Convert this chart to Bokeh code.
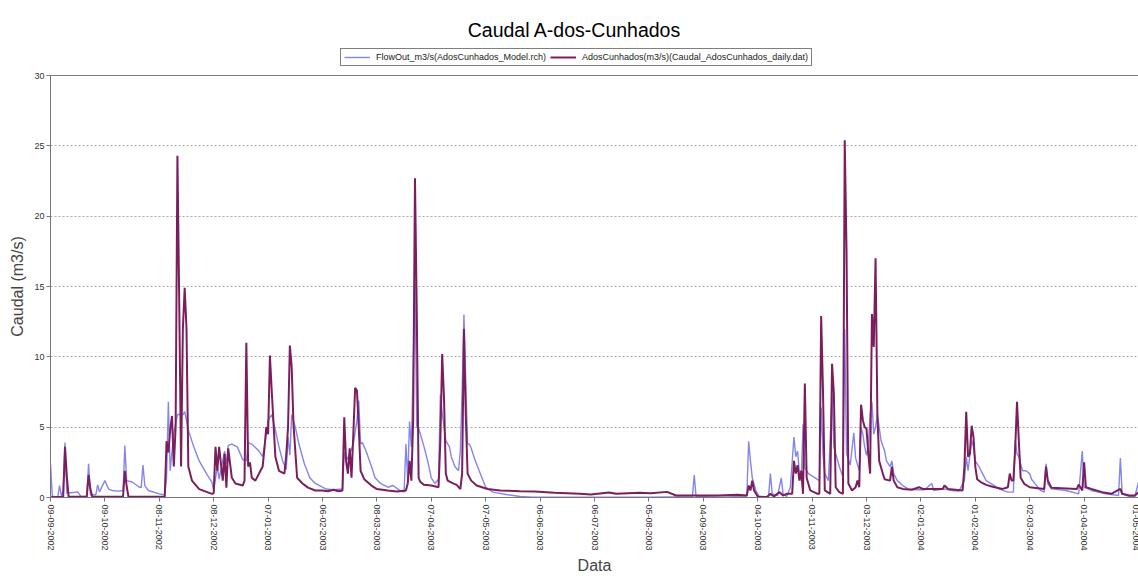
from bokeh.plotting import figure
from bokeh.layouts import column
from bokeh.models import (FixedTicker, Legend, LegendItem, Range1d, Span, ColumnDataSource, Label)
from bokeh.embed import file_html
from bokeh.resources import INLINE

# ---- data (day offsets from 09-09-2002) ----
tick_days = [0, 30, 60, 90, 120, 150, 180, 210, 240, 270, 300, 330, 360, 390,
             420, 450, 480, 510, 540, 570, 600]
tick_labels = ["09-09-2002", "09-10-2002", "08-11-2002", "08-12-2002", "07-01-2003",
               "06-02-2003", "08-03-2003", "07-04-2003", "07-05-2003", "06-06-2003",
               "06-07-2003", "05-08-2003", "04-09-2003", "04-10-2003", "03-11-2003",
               "03-12-2003", "02-01-2004", "01-02-2004", "02-03-2004", "01-04-2004",
               "01-05-2004"]

obs_days = [0, 7, 8, 9, 10, 20, 21, 22, 23, 40, 41, 42, 43, 63,
            64, 65, 66, 67, 68, 69, 70, 71, 72, 73, 74, 75, 76, 78, 82, 86, 89,
            90, 91, 92, 93, 95, 96, 97, 98, 100, 102, 106, 107, 108, 109, 110, 111, 113,
            117, 118, 119, 120, 121, 122, 124, 126, 129, 130, 131, 132, 133, 134, 136,
            139, 142, 146, 150, 153, 156, 159, 161,
            162, 163, 164, 165, 166, 167, 168, 169, 170, 171, 173, 177, 180, 186, 191,
            196, 197, 198, 199, 200, 201, 202, 203, 204, 206, 210, 214, 215, 216, 217,
            218, 219, 222, 224, 226, 227, 228, 229, 230, 232, 235, 241, 248, 259, 267,
            278, 292, 298, 308, 312, 325, 331, 340, 345, 353, 368, 379, 384, 385, 386,
            387, 388, 390, 395, 397, 399, 402, 404, 406, 409, 410, 411, 412, 413, 414,
            415, 416, 417, 419, 423, 424, 425, 426, 427, 430, 431, 432, 433, 435, 437,
            438, 439, 440, 442, 444, 445, 446, 447, 448, 449, 450, 451, 452, 453, 454,
            455, 456, 457, 459, 460, 463, 464, 465, 467, 470, 475, 479, 481, 492, 493,
            495, 503, 504, 505, 506, 507, 508, 509, 510, 511, 513, 516, 519, 525, 528,
            529, 530, 531, 532, 533, 534, 535, 537, 540, 548, 549, 550, 552, 566, 567,
            569, 570, 571, 574, 580, 585, 590, 591, 595, 598, 600]
obs_vals = [0.02, 0.05, 3.6, 1.5, 0.05, 0.05, 1.6, 0.6, 0.05, 0.05, 1.9, 0.8, 0.05, 0.05,
            4.0, 3.2, 4.8, 5.8, 2.2, 5.0, 24.3, 13.8, 2.2, 12.0, 14.9, 12.0, 2.2, 1.2, 0.6, 0.4, 0.26,
            0.3, 3.6, 1.9, 3.6, 1.2, 3.1, 0.7, 3.5, 1.4, 1.0, 0.85, 1.2, 11.0, 2.2, 2.5, 1.4, 1.2,
            2.2, 3.5, 5.0, 4.5, 10.1, 7.6, 2.9, 1.9, 1.7, 3.0, 5.0, 10.8, 9.3, 5.2, 1.4,
            1.0, 0.7, 0.5, 0.5, 0.45, 0.55, 0.45, 0.5,
            5.7, 2.6, 1.7, 3.5, 1.4, 4.5, 7.8, 7.6, 5.0, 1.9, 1.3, 0.85, 0.6, 0.5, 0.43,
            0.5, 1.0, 2.6, 1.2, 5.5, 22.7, 13.0, 1.4, 1.1, 0.9, 0.85, 0.73, 4.05, 10.2, 7.1,
            1.7, 1.2, 1.0, 0.9, 0.6, 1.7, 12.0, 5.9, 1.7, 1.2, 0.85, 0.6, 0.5, 0.45, 0.43,
            0.33, 0.26, 0.21, 0.36, 0.26, 0.33, 0.31, 0.4, 0.14, 0.14, 0.14, 0.19, 0.14, 0.85, 0.5,
            1.2, 0.5, 0.07, 0.02, 0.26, 0.07, 0.38, 0.14, 0.26, 0.26, 2.6, 1.7, 2.3, 1.2, 1.9,
            0.26, 8.1, 1.4, 0.5, 0.26, 0.26, 12.9, 7.6, 0.5, 0.26, 9.5, 7.4, 0.73, 0.38, 0.26,
            25.4, 17.4, 1.0, 0.5, 0.73, 1.2, 0.73, 6.6, 5.5, 5.0, 4.9, 3.1, 1.7, 13.05, 10.7,
            17.0, 5.9, 2.6, 1.7, 1.3, 1.2, 2.2, 1.2, 0.73, 0.61, 0.55, 0.73, 0.61, 0.61, 0.85,
            0.61, 0.5, 2.2, 6.1, 2.9, 3.1, 5.1, 4.3, 2.2, 1.3, 1.1, 0.9, 0.78, 0.61, 0.73,
            1.7, 1.2, 1.2, 3.5, 6.8, 4.05, 1.4, 0.97, 0.73, 0.61, 2.2, 1.2, 0.69, 0.61, 0.92,
            0.5, 2.5, 0.73, 0.61, 0.38, 0.26, 0.61, 0.26, 0.14, 0.14, 0.38]

mod_days = [0, 1, 4, 5, 6, 7, 8, 9, 15, 17, 20, 21, 22, 25, 26, 27, 30, 32, 34, 37,
            40, 41, 42, 45, 49, 50, 51, 52, 54, 60, 63, 64, 65, 66, 68, 70, 73, 74, 76,
            79, 82, 86, 89, 90, 92, 93, 96, 97, 98, 100, 103, 106, 108, 109, 111, 115,
            117, 119, 120, 122, 124, 126, 128, 130, 131, 132, 133, 135, 137, 140, 143,
            146, 150, 152, 156, 161, 162, 163, 165, 167, 169, 170, 171, 172, 174, 177,
            179, 182, 186, 189, 193, 195, 196, 197, 198, 199, 200, 201, 202, 203, 204,
            206, 208, 210, 212, 214, 215, 216, 218, 220, 221, 223, 225, 226, 227, 228,
            229, 230, 231, 232, 234, 237, 240, 244, 252, 259, 266, 300, 330, 354, 355,
            356, 370, 384, 385, 386, 387, 389, 391, 393, 396, 397, 398, 401, 403, 404,
            406, 408, 410, 411, 412, 413, 414, 415, 416, 418, 421, 424, 425, 426, 427,
            429, 431, 432, 435, 437, 438, 439, 441, 443, 444, 446, 447, 448, 449, 450,
            451, 452, 453, 454, 455, 456, 457, 458, 460, 461, 463, 464, 465, 467, 470,
            473, 477, 482, 486, 487, 493, 497, 501, 504, 505, 506, 508, 509, 510, 512,
            514, 516, 519, 523, 528, 531, 532, 533, 534, 536, 538, 540, 541, 543, 546,
            548, 549, 550, 552, 560, 567, 569, 570, 574, 582, 589, 590, 591, 595, 598, 600]
mod_vals = [2.4, 0.1, 0.02, 0.85, 0.1, 0.5, 3.9, 0.3, 0.4, 0.05, 0.1, 2.4, 0.2, 0.2, 0.9,
            0.4, 1.2, 0.6, 0.5, 0.45, 0.5, 3.7, 1.2, 1.1, 0.73, 0.7, 2.3, 0.85, 0.5, 0.26,
            0.19, 1.4, 6.8, 1.9, 4.6, 5.9, 5.9, 6.1, 4.8, 3.6, 2.6, 1.7, 1.1, 0.5, 2.2, 1.3,
            3.3, 2.4, 3.7, 3.8, 3.6, 2.7, 2.6, 3.9, 3.8, 3.3, 2.9, 4.5, 5.5, 5.9, 4.8, 3.6,
            2.6, 2.0, 4.3, 3.0, 5.9, 5.0, 3.8, 2.4, 1.4, 1.0, 0.73, 0.6, 0.55, 0.6, 3.2, 2.6,
            3.1, 3.8, 5.5, 6.9, 3.8, 3.9, 3.3, 2.2, 1.4, 1.0, 0.73, 0.85, 0.45, 0.38, 3.8,
            1.2, 5.4, 3.6, 9.3, 15.3, 5.0, 4.9, 4.5, 3.6, 2.6, 1.4, 1.0, 1.3, 7.3, 6.0, 4.05,
            3.6, 2.9, 2.2, 1.9, 3.3, 7.6, 13.0, 8.3, 3.8, 3.8, 3.5, 2.7, 1.7, 0.73, 0.38, 0.2,
            0.07, 0.02, 0.02, 0.02, 0.05, 1.6, 0.07, 0.02, 0.1, 4.0, 2.6, 1.4, 0.5, 0.02,
            0.02, 0.1, 1.7, 0.26, 0.14, 1.4, 0.26, 0.07, 0.73, 4.3, 2.9, 3.3, 1.7, 1.2, 5.2,
            2.1, 1.7, 1.45, 1.2, 6.4, 3.1, 1.7, 1.2, 7.4, 3.6, 2.2, 1.45, 12.0, 3.1, 2.3, 4.6,
            2.8, 1.9, 5.0, 4.5, 3.6, 3.0, 3.7, 5.9, 6.8, 4.5, 5.0, 5.9, 5.0, 4.05, 3.3, 2.6,
            2.2, 2.6, 1.7, 1.2, 0.85, 0.61, 0.55, 0.55, 1.0, 0.5, 0.61, 0.5, 0.45, 1.2, 2.9,
            1.9, 4.05, 3.6, 2.6, 2.2, 1.7, 1.2, 0.97, 0.61, 0.38, 0.38, 4.05, 3.1, 2.9, 1.9,
            1.9, 1.7, 1.3, 0.97, 0.5, 0.38, 2.4, 0.97, 0.61, 0.5, 0.26, 3.3, 0.73, 0.5, 0.26,
            0.14, 2.8, 0.26, 0.07, 0.07, 1.1]

y_ticks = [0, 5, 10, 15, 20, 25, 30]

title_text = "Caudal A-dos-Cunhados"
mod_label = "FlowOut_m3/s(AdosCunhados_Model.rch)"
obs_label = "AdosCunhados(m3/s)(Caudal_AdosCunhados_daily.dat)"

FONT = "Liberation Sans"
OBS_COLOR = "#7B1F5C"
MOD_COLOR = "#8585EE"

mod_src = ColumnDataSource(dict(x=mod_days, y=mod_vals))
obs_src = ColumnDataSource(dict(x=obs_days, y=obs_vals))

# ---------- header: title + legend ----------
# its ranges lie outside the data, so the series drawn here only feed the legend keys
# (the column layout aligns this frame's left edge with the chart frame, at x = 50)
head = figure(width=1138, height=67, output_backend="svg", toolbar_location=None,
              x_range=Range1d(-20, -10), y_range=Range1d(-20, -10), min_border=0,
              x_axis_location=None, y_axis_location=None)
head.grid.visible = False
head.outline_line_color = None
head.background_fill_color = "white"
head.border_fill_color = "white"

head.add_layout(Label(x=524, y=38, x_units="screen", y_units="screen", text=title_text,
                      text_font=FONT, text_font_size="19.5px", text_align="center",
                      text_baseline="alphabetic", text_color="black"))

k_mod = head.line("x", "y", source=mod_src, line_color=MOD_COLOR, line_width=1.4)
k_obs = head.line("x", "y", source=obs_src, line_color=OBS_COLOR, line_width=2)
legend = Legend(items=[LegendItem(label=mod_label, renderers=[k_mod]),
                       LegendItem(label=obs_label, renderers=[k_obs])],
                orientation="horizontal", location=(290, 1))
legend.label_text_font = FONT
legend.label_text_font_size = "9px"
legend.label_text_color = "#222222"
legend.glyph_width = 26
legend.glyph_height = 10
legend.label_height = 10
legend.label_standoff = 6
legend.spacing = 4
legend.padding = 3
legend.margin = 0
legend.border_line_color = "black"
legend.border_line_width = 1
legend.background_fill_color = "white"
legend.background_fill_alpha = 1.0
head.add_layout(legend)

# ---------- main chart ----------
p = figure(width=1138, height=513, output_backend="svg", toolbar_location=None,
           x_range=Range1d(0, 600), y_range=Range1d(0, 30),
           min_border_left=50, min_border_right=0, min_border_top=8, min_border_bottom=83)
p.background_fill_color = "white"
p.border_fill_color = "white"
p.outline_line_color = None

p.line("x", "y", source=mod_src, line_color=MOD_COLOR, line_width=1.4)
p.line("x", "y", source=obs_src, line_color=OBS_COLOR, line_width=2)

# x axis
p.xaxis.ticker = FixedTicker(ticks=tick_days)
p.xaxis.major_label_overrides = {d: lab for d, lab in zip(tick_days, tick_labels)}
p.xaxis.major_label_orientation = "vertical"
p.xaxis.major_label_text_font = FONT
p.xaxis.major_label_text_font_size = "9px"
p.xaxis.major_label_text_color = "#333333"
p.xaxis.major_label_standoff = 3
p.xaxis.major_tick_in = 0
p.xaxis.major_tick_out = 4
p.xaxis.minor_tick_line_color = None
p.xaxis.axis_line_color = "#777777"
p.xaxis.major_tick_line_color = "#777777"
p.xaxis.axis_label = "Data"
p.xaxis.axis_label_text_font = FONT
p.xaxis.axis_label_text_font_size = "16px"
p.xaxis.axis_label_text_font_style = "normal"
p.xaxis.axis_label_standoff = 3

# y axis
p.yaxis.ticker = FixedTicker(ticks=y_ticks)
p.yaxis.major_label_text_font = FONT
p.yaxis.major_label_text_font_size = "9px"
p.yaxis.major_label_text_color = "#333333"
p.yaxis.major_label_standoff = 2
p.yaxis.major_tick_in = 0
p.yaxis.major_tick_out = 4
p.yaxis.minor_tick_line_color = None
p.yaxis.axis_line_color = "#777777"
p.yaxis.major_tick_line_color = "#777777"
p.yaxis.axis_label = "Caudal (m3/s)"
p.yaxis.axis_label_text_font = FONT
p.yaxis.axis_label_text_font_size = "16px"
p.yaxis.axis_label_text_font_style = "normal"
p.yaxis.axis_label_standoff = 5

p.xgrid.grid_line_color = None
p.ygrid.grid_line_color = "#aaaaaa"
p.ygrid.grid_line_dash = "2 2"
p.ygrid.grid_line_width = 1

p.add_layout(Span(location=30, dimension="width", line_color="black", line_width=1))

layout = column(head, p, spacing=0)
open("out.html", "w").write(file_html(layout, INLINE))
